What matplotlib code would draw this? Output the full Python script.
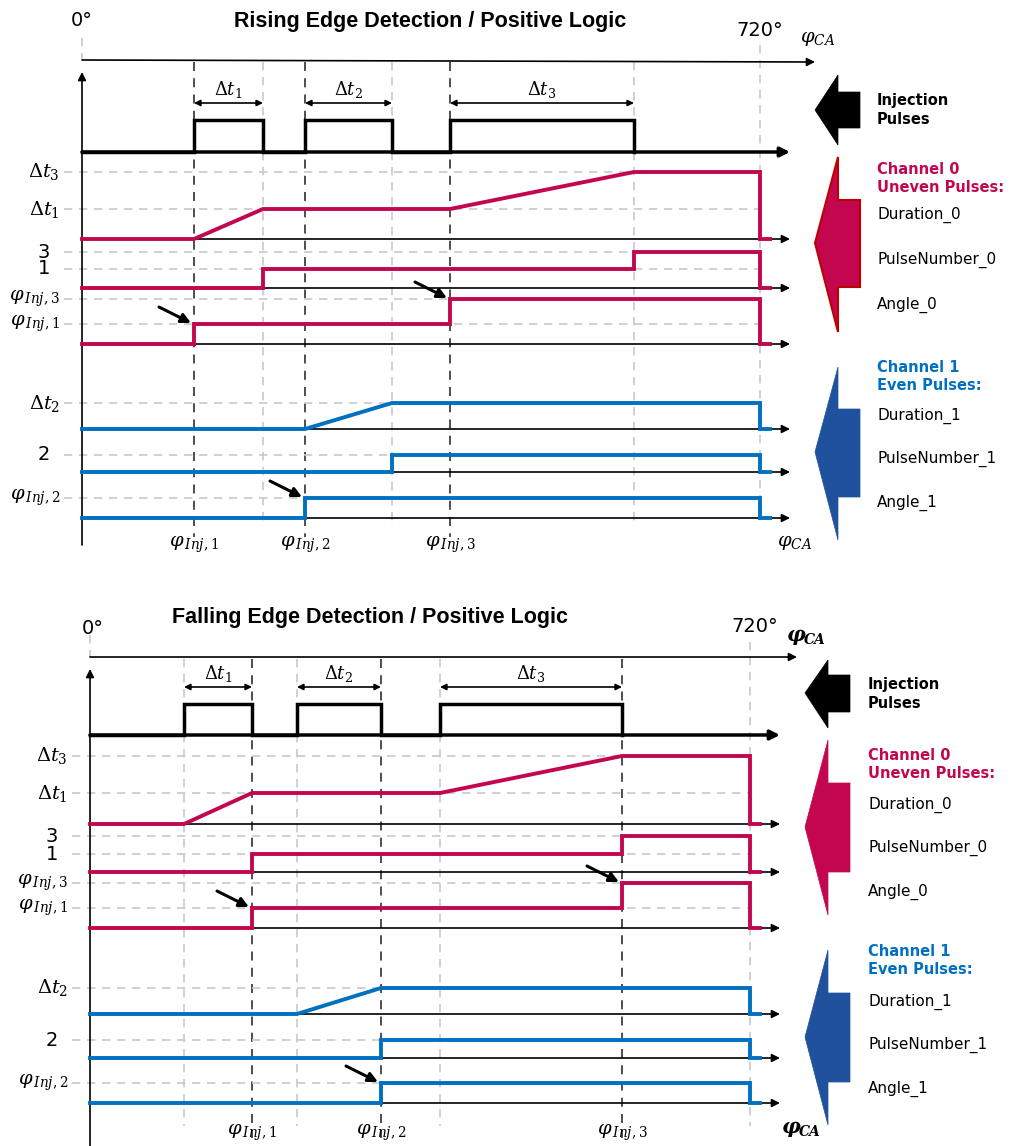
import matplotlib.pyplot as plt
from matplotlib.patches import Polygon

plt.rcParams['mathtext.fontset'] = 'dejavuserif'

CRIMSON = '#C2074F'
BLUE = '#0070C0'
BLUE_ARROW = '#20519C'
DARK_DASH = '#404040'
LIGHT_DASH = '#C8C8C8'

# ---- rising edge panel (sheet pixel coordinates) ----
rise_x0, rise_end, rise_axis_end = 82, 760, 790
rise_on = [194, 305, 450]
rise_off = [263, 392, 634]
rise_inj = [152, 120]                 # baseline, high
rise_dur0 = [239, 209, 172]           # baseline, dt1, dt3
rise_pn0 = [288, 269, 252]            # baseline, 1, 3
rise_ang0 = [344, 324, 299]           # baseline, phi1, phi3
rise_dur1 = [429, 403]                # baseline, dt2
rise_pn1 = [472, 455]                 # baseline, 2
rise_ang1 = [518, 498]                # baseline, phi2

# ---- falling edge panel ----
fall_x0, fall_end, fall_axis_end = 90, 750, 780
fall_on = [184, 297, 440]
fall_off = [252, 381, 622]
fall_inj = [735, 704]
fall_dur0 = [824, 793, 756]
fall_pn0 = [872, 854, 836]
fall_ang0 = [928, 908, 883]
fall_dur1 = [1014, 988]
fall_pn1 = [1058, 1040]
fall_ang1 = [1103, 1083]

right_labels = ['Duration', 'PulseNumber', 'Angle']

fig = plt.figure(figsize=(10.21, 11.46), dpi=100)
ax = fig.add_axes([0, 0, 1, 1])
ax.set_xlim(0, 1021)
ax.set_ylim(1146, 0)
ax.axis('off')


def phi(i):
    return r'$\varphi_{\,Inj,%d}$' % i


def arrow_line(x0, y0, x1, y1, lw=1.2, ms=12):
    ax.annotate('', xy=(x1, y1), xytext=(x0, y0),
                arrowprops=dict(arrowstyle='-|>', color='k', lw=lw,
                                mutation_scale=ms, shrinkA=0, shrinkB=0))


def step(x_start, x_end, base, edges, levels):
    # step trace: jumps to levels[i] at edges[i], back to base at x_end
    xs, ys = [x_start], [base]
    cur = base
    for e, lv in zip(edges, levels):
        xs += [e, e]
        ys += [cur, lv]
        cur = lv
    xs += [x_end, x_end, x_end + 10]
    ys += [cur, base, base]
    return xs, ys


def ramp(x_start, x_end, base, starts, stops, levels):
    xs, ys = [x_start], [base]
    cur = base
    for s, e, lv in zip(starts, stops, levels):
        xs += [s, e]
        ys += [cur, lv]
        cur = lv
    xs += [x_end, x_end, x_end + 10]
    ys += [cur, base, base]
    return xs, ys


def bold_phi_ca(x, y):
    ax.text(x, y, 'φ', fontsize=15, fontweight='bold', fontstyle='italic',
            family='DejaVu Serif', ha='left', va='center')
    ax.text(x + 17, y + 5, 'CA', fontsize=10, fontweight='bold',
            fontstyle='italic', family='DejaVu Serif', ha='left',
            va='center')


def draw_panel(x0, x_end, x_axis_end, on, off, inj, dur0, pn0, ang0,
               dur1, pn1, ang1, falling, top_y, label_y, yaxis_bottom):
    dark = off if falling else on
    light = on if falling else off
    for x in dark:
        ax.plot([x, x], [top_y + 2, yaxis_bottom - 8], color=DARK_DASH,
                lw=1.3, ls=(0, (5, 4)), zorder=1)
    for x in light:
        ax.plot([x, x], [top_y + 2, yaxis_bottom - 20], color=LIGHT_DASH,
                lw=1.2, ls=(0, (5, 4)), zorder=1)
    ax.plot([x_end, x_end], [top_y - 15, yaxis_bottom - 20], color=LIGHT_DASH,
            lw=1.2, ls=(0, (5, 4)), zorder=1)
    ax.plot([x0, x0], [top_y - 22, top_y], color=LIGHT_DASH,
            lw=1.2, ls=(0, (5, 4)), zorder=1)

    # horizontal guide lines
    guides = [(dur0[2], r'$\Delta t_3$'), (dur0[1], r'$\Delta t_1$'),
              (pn0[2], '3'), (pn0[1], '1'),
              (ang0[2], phi(3)), (ang0[1], phi(1)),
              (dur1[1], r'$\Delta t_2$'), (pn1[1], '2'),
              (ang1[1], phi(2))]
    for y, lab in guides:
        ax.plot([x0 - 18, x_end], [y, y], color=LIGHT_DASH, lw=1.2,
                ls=(0, (5, 4)), zorder=1)
        if lab.startswith('$'):
            ax.text(x0 - 22, y, lab, ha='right', va='center', fontsize=14)
        else:
            ax.text(x0 - 32, y, lab, ha='right', va='center', fontsize=14,
                    family='DejaVu Sans')

    # axes
    arrow_line(x0, yaxis_bottom, x0, top_y + 12)
    for b in [dur0[0], pn0[0], ang0[0], dur1[0], pn1[0], ang1[0]]:
        arrow_line(x0, b, x_axis_end, b)
    arrow_line(x0, inj[0], x_axis_end, inj[0], lw=2.5, ms=14)

    # injection pulses
    xs, ys = [x0], [inj[0]]
    for a, b in zip(on, off):
        xs += [a, a, b, b]
        ys += [inj[0], inj[1], inj[1], inj[0]]
    ax.plot(xs, ys, color='k', lw=2.5, zorder=3, solid_joinstyle='miter')
    for i, (a, b) in enumerate(zip(on, off)):
        ax.annotate('', xy=(b, inj[1] - 17), xytext=(a, inj[1] - 17),
                    arrowprops=dict(arrowstyle='<|-|>', color='k', lw=1.2,
                                    mutation_scale=9, shrinkA=0, shrinkB=0))
        ax.text((a + b) / 2, inj[1] - 31, r'$\Delta t_%d$' % (i + 1),
                ha='center', va='center', fontsize=13)

    kw = dict(lw=2.8, zorder=4, solid_joinstyle='miter')
    # channel 0: pulses 1 and 3, channel 1: pulse 2
    ax.plot(*ramp(x0, x_end, dur0[0], [on[0], on[2]], [off[0], off[2]],
                  [dur0[1], dur0[2]]), color=CRIMSON, **kw)
    ax.plot(*step(x0, x_end, pn0[0], [off[0], off[2]], [pn0[1], pn0[2]]),
            color=CRIMSON, **kw)
    ang_edges = dark
    ax.plot(*step(x0, x_end, ang0[0], [ang_edges[0], ang_edges[2]],
                  [ang0[1], ang0[2]]), color=CRIMSON, **kw)
    ax.plot(*ramp(x0, x_end, dur1[0], [on[1]], [off[1]], [dur1[1]]),
            color=BLUE, **kw)
    ax.plot(*step(x0, x_end, pn1[0], [off[1]], [pn1[1]]), color=BLUE, **kw)
    ax.plot(*step(x0, x_end, ang1[0], [ang_edges[1]], [ang1[1]]),
            color=BLUE, **kw)

    # pointer arrows at the angle steps
    for x, y in [(ang_edges[0], ang0[1]), (ang_edges[2], ang0[2]),
                 (ang_edges[1], ang1[1])]:
        ax.annotate('', xy=(x - 3, y - 1), xytext=(x - 35, y - 17),
                    arrowprops=dict(arrowstyle='-|>', color='k', lw=2.2,
                                    mutation_scale=14, shrinkA=0, shrinkB=0))

    for i, x in enumerate(dark):
        ax.text(x, label_y, phi(i + 1), ha='center', va='center', fontsize=14)


def side_arrow(xt, yc, y_top, y_bot, body_top, body_bot, face, edge=None):
    xs, xb = xt + 23, xt + 45
    pts = [(xt, yc), (xs, y_top), (xs, body_top), (xb, body_top),
           (xb, body_bot), (xs, body_bot), (xs, y_bot)]
    ax.add_patch(Polygon(pts, closed=True, facecolor=face,
                         edgecolor=edge if edge else face,
                         lw=1.5 if edge else 0.5, zorder=5))


def side_labels(x, inj_y, ch0_y, ch0_rows, ch1_y, ch1_rows):
    ax.text(x, inj_y, 'Injection\nPulses', fontsize=10.5, fontweight='bold',
            family='DejaVu Sans', va='center', linespacing=1.25)
    ax.text(x, ch0_y, 'Channel 0\nUneven Pulses:', fontsize=10.5,
            fontweight='bold', color=CRIMSON, family='DejaVu Sans',
            va='center', linespacing=1.25)
    ax.text(x, ch1_y, 'Channel 1\nEven Pulses:', fontsize=10.5,
            fontweight='bold', color=BLUE, family='DejaVu Sans',
            va='center', linespacing=1.25)
    for lab, y in zip(right_labels, ch0_rows):
        ax.text(x, y, lab + '_0', fontsize=11, family='DejaVu Sans',
                va='center')
    for lab, y in zip(right_labels, ch1_rows):
        ax.text(x, y, lab + '_1', fontsize=11, family='DejaVu Sans',
                va='center')


# ---------------- rising edge ----------------
ax.text(430, 22, 'Rising Edge Detection / Positive Logic', ha='center',
        va='center', fontsize=15.5, fontweight='bold', family='Liberation Sans')
ax.text(82, 20, '0°', ha='center', va='center', fontsize=14,
        family='DejaVu Sans')
ax.text(760, 30, '720°', ha='center', va='center', fontsize=14,
        family='DejaVu Sans')
ax.text(818, 38, r'$\varphi_{CA}$', ha='center', va='center', fontsize=14)
arrow_line(rise_x0, 60, 815, 62)
draw_panel(rise_x0, rise_end, rise_axis_end, rise_on, rise_off, rise_inj,
           rise_dur0, rise_pn0, rise_ang0, rise_dur1, rise_pn1, rise_ang1,
           falling=False, top_y=60, label_y=545, yaxis_bottom=545)
ax.text(795, 543, r'$\varphi_{CA}$', ha='center', va='center', fontsize=14)

side_arrow(815, 110, 75, 145, 92, 128, 'k')
side_arrow(815, 243, 157, 332, 200, 287, CRIMSON, edge='#C00000')
side_arrow(815, 452, 367, 540, 409, 497, BLUE_ARROW)
side_labels(877, 110, 178, [215, 260, 305], 377, [416, 459, 503])

# ---------------- falling edge ----------------
ax.text(370, 618, 'Falling Edge Detection / Positive Logic', ha='center',
        va='center', fontsize=15.5, fontweight='bold', family='Liberation Sans')
ax.text(93, 628, '0°', ha='center', va='center', fontsize=14,
        family='DejaVu Sans')
ax.text(755, 627, '720°', ha='center', va='center', fontsize=14,
        family='DejaVu Sans')
bold_phi_ca(787, 635)
arrow_line(fall_x0, 657, 797, 657)
draw_panel(fall_x0, fall_end, fall_axis_end, fall_on, fall_off, fall_inj,
           fall_dur0, fall_pn0, fall_ang0, fall_dur1, fall_pn1, fall_ang1,
           falling=True, top_y=657, label_y=1133, yaxis_bottom=1146)
bold_phi_ca(782, 1127)

side_arrow(805, 693, 660, 728, 675, 712, 'k')
side_arrow(805, 827, 740, 915, 783, 872, CRIMSON)
side_arrow(805, 1037, 950, 1125, 993, 1082, BLUE_ARROW)
side_labels(868, 694, 764, [805, 848, 892], 961, [1002, 1045, 1089])

fig.savefig('out.png', dpi=100)
